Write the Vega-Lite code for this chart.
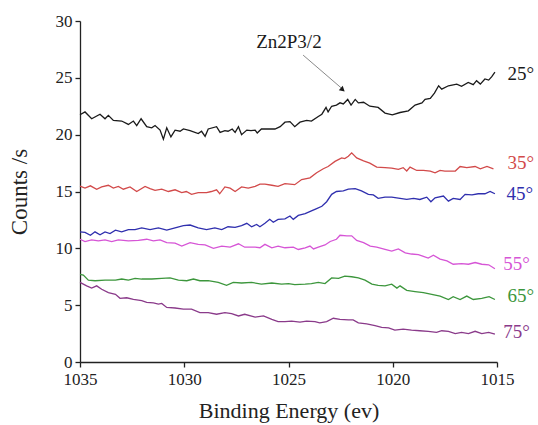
{
  "$schema": "https://vega.github.io/schema/vega-lite/v6.json",
  "width": 417,
  "height": 341,
  "autosize": {"type": "none"},
  "padding": {"left": 80, "top": 21, "right": 41, "bottom": 63},
  "background": "white",
  "config": {
    "font": "Liberation Serif",
    "view": {"stroke": null},
    "text": {"font": "Liberation Serif"},
    "axis": {
      "labelFont": "Liberation Serif",
      "titleFont": "Liberation Serif",
      "labelFontSize": 17,
      "labelColor": "#222",
      "titleColor": "#222",
      "titleFontWeight": "normal",
      "domainColor": "#222",
      "domainWidth": 1.3,
      "tickColor": "#222",
      "tickWidth": 1.3,
      "tickSize": 5,
      "grid": false,
      "labelOverlap": false,
      "labelFlush": false
    }
  },
  "datasets": {
    "curves": [
      {"s":"25","x":1035,"y":21.75},{"s":"25","x":1034.76,"y":22.0},{"s":"25","x":1034.44,"y":21.4},{"s":"25","x":1034.04,"y":21.8},{"s":"25","x":1033.8,"y":21.4},{"s":"25","x":1033.64,"y":21.7},{"s":"25","x":1033.4,"y":21.25},{"s":"25","x":1033.0,"y":21.2},{"s":"25","x":1032.68,"y":20.9},{"s":"25","x":1032.44,"y":21.2},{"s":"25","x":1032.28,"y":20.8},{"s":"25","x":1032.07,"y":21.4},{"s":"25","x":1031.8,"y":20.7},{"s":"25","x":1031.56,"y":20.6},{"s":"25","x":1031.4,"y":20.8},{"s":"25","x":1031.16,"y":20.4},{"s":"25","x":1031.0,"y":19.6},{"s":"25","x":1030.84,"y":20.6},{"s":"25","x":1030.64,"y":19.8},{"s":"25","x":1030.44,"y":20.4},{"s":"25","x":1030.2,"y":20.3},{"s":"25","x":1030.04,"y":20.5},{"s":"25","x":1029.72,"y":20.35},{"s":"25","x":1029.33,"y":20.1},{"s":"25","x":1029.17,"y":20.3},{"s":"25","x":1029.0,"y":19.85},{"s":"25","x":1028.85,"y":20.5},{"s":"25","x":1028.45,"y":20.7},{"s":"25","x":1028.28,"y":20.2},{"s":"25","x":1028.05,"y":20.35},{"s":"25","x":1027.9,"y":20.3},{"s":"25","x":1027.7,"y":20.5},{"s":"25","x":1027.56,"y":20.2},{"s":"25","x":1027.4,"y":20.7},{"s":"25","x":1027.25,"y":20.0},{"s":"25","x":1027.0,"y":20.4},{"s":"25","x":1026.8,"y":20.35},{"s":"25","x":1026.6,"y":20.4},{"s":"25","x":1026.5,"y":20.15},{"s":"25","x":1026.3,"y":20.5},{"s":"25","x":1025.65,"y":20.5},{"s":"25","x":1025.4,"y":20.7},{"s":"25","x":1025.17,"y":21.1},{"s":"25","x":1024.93,"y":21.15},{"s":"25","x":1024.7,"y":20.7},{"s":"25","x":1024.45,"y":21.1},{"s":"25","x":1024.13,"y":21.25},{"s":"25","x":1023.9,"y":21.2},{"s":"25","x":1023.57,"y":21.6},{"s":"25","x":1023.4,"y":21.8},{"s":"25","x":1023.2,"y":22.4},{"s":"25","x":1023.1,"y":22.0},{"s":"25","x":1022.93,"y":22.5},{"s":"25","x":1022.7,"y":22.6},{"s":"25","x":1022.53,"y":22.8},{"s":"25","x":1022.37,"y":22.7},{"s":"25","x":1022.16,"y":23.1},{"s":"25","x":1022.0,"y":22.6},{"s":"25","x":1021.8,"y":23.1},{"s":"25","x":1021.65,"y":22.8},{"s":"25","x":1021.4,"y":22.85},{"s":"25","x":1021.1,"y":22.5},{"s":"25","x":1020.7,"y":22.4},{"s":"25","x":1020.37,"y":21.9},{"s":"25","x":1020.02,"y":21.75},{"s":"25","x":1019.65,"y":21.95},{"s":"25","x":1019.25,"y":22.1},{"s":"25","x":1018.93,"y":22.6},{"s":"25","x":1018.6,"y":22.8},{"s":"25","x":1018.45,"y":23.1},{"s":"25","x":1018.2,"y":23.2},{"s":"25","x":1018.0,"y":23.65},{"s":"25","x":1017.8,"y":24.3},{"s":"25","x":1017.65,"y":24.0},{"s":"25","x":1017.33,"y":24.3},{"s":"25","x":1016.93,"y":24.45},{"s":"25","x":1016.7,"y":24.25},{"s":"25","x":1016.38,"y":24.6},{"s":"25","x":1016.14,"y":24.4},{"s":"25","x":1015.98,"y":24.75},{"s":"25","x":1015.8,"y":24.45},{"s":"25","x":1015.58,"y":24.9},{"s":"25","x":1015.4,"y":24.8},{"s":"25","x":1015.25,"y":25.1},{"s":"25","x":1015.1,"y":25.5},

      {"s":"35","x":1035,"y":15.47},{"s":"35","x":1034.76,"y":15.3},{"s":"35","x":1034.5,"y":15.5},{"s":"35","x":1034.2,"y":15.2},{"s":"35","x":1033.96,"y":15.4},{"s":"35","x":1033.64,"y":15.55},{"s":"35","x":1033.4,"y":15.3},{"s":"35","x":1033.16,"y":15.45},{"s":"35","x":1032.92,"y":15.2},{"s":"35","x":1032.6,"y":15.4},{"s":"35","x":1032.28,"y":15.0},{"s":"35","x":1031.88,"y":15.45},{"s":"35","x":1031.64,"y":15.25},{"s":"35","x":1031.4,"y":15.1},{"s":"35","x":1031.08,"y":15.2},{"s":"35","x":1030.76,"y":15.0},{"s":"35","x":1030.44,"y":15.15},{"s":"35","x":1030.12,"y":14.9},{"s":"35","x":1029.9,"y":15.0},{"s":"35","x":1029.65,"y":14.75},{"s":"35","x":1029.33,"y":14.9},{"s":"35","x":1028.93,"y":14.9},{"s":"35","x":1028.7,"y":15.0},{"s":"35","x":1028.45,"y":15.15},{"s":"35","x":1028.3,"y":14.8},{"s":"35","x":1028.05,"y":15.4},{"s":"35","x":1027.8,"y":15.3},{"s":"35","x":1027.56,"y":15.0},{"s":"35","x":1027.25,"y":15.4},{"s":"35","x":1026.93,"y":15.3},{"s":"35","x":1026.6,"y":15.45},{"s":"35","x":1026.37,"y":15.65},{"s":"35","x":1026.13,"y":15.65},{"s":"35","x":1025.8,"y":15.55},{"s":"35","x":1025.5,"y":15.45},{"s":"35","x":1025.17,"y":15.7},{"s":"35","x":1024.7,"y":15.6},{"s":"35","x":1024.37,"y":16.05},{"s":"35","x":1023.97,"y":16.2},{"s":"35","x":1023.65,"y":16.65},{"s":"35","x":1023.33,"y":17.0},{"s":"35","x":1023.1,"y":17.2},{"s":"35","x":1022.77,"y":17.65},{"s":"35","x":1022.45,"y":17.95},{"s":"35","x":1022.3,"y":17.9},{"s":"35","x":1022.13,"y":18.1},{"s":"35","x":1021.97,"y":18.4},{"s":"35","x":1021.73,"y":17.95},{"s":"35","x":1021.4,"y":17.7},{"s":"35","x":1021.1,"y":17.5},{"s":"35","x":1020.77,"y":17.15},{"s":"35","x":1020.37,"y":17.1},{"s":"35","x":1020.05,"y":17.05},{"s":"35","x":1019.73,"y":16.95},{"s":"35","x":1019.5,"y":17.1},{"s":"35","x":1019.33,"y":16.8},{"s":"35","x":1019.17,"y":17.15},{"s":"35","x":1018.85,"y":16.85},{"s":"35","x":1018.53,"y":16.85},{"s":"35","x":1018.2,"y":16.8},{"s":"35","x":1017.97,"y":16.65},{"s":"35","x":1017.73,"y":16.85},{"s":"35","x":1017.5,"y":16.8},{"s":"35","x":1017.0,"y":16.8},{"s":"35","x":1016.77,"y":17.2},{"s":"35","x":1016.45,"y":17.1},{"s":"35","x":1016.05,"y":17.2},{"s":"35","x":1015.8,"y":17.0},{"s":"35","x":1015.48,"y":17.2},{"s":"35","x":1015.17,"y":17.0},

      {"s":"45","x":1035,"y":11.45},{"s":"45","x":1034.76,"y":11.4},{"s":"45","x":1034.5,"y":11.15},{"s":"45","x":1034.28,"y":11.45},{"s":"45","x":1034.04,"y":11.2},{"s":"45","x":1033.8,"y":11.45},{"s":"45","x":1033.56,"y":11.3},{"s":"45","x":1033.3,"y":11.6},{"s":"45","x":1033.0,"y":11.45},{"s":"45","x":1032.68,"y":11.65},{"s":"45","x":1032.36,"y":11.65},{"s":"45","x":1032.04,"y":11.8},{"s":"45","x":1031.64,"y":11.65},{"s":"45","x":1031.24,"y":11.8},{"s":"45","x":1030.84,"y":11.6},{"s":"45","x":1030.44,"y":11.8},{"s":"45","x":1030.04,"y":12.0},{"s":"45","x":1029.72,"y":12.05},{"s":"45","x":1029.33,"y":11.8},{"s":"45","x":1028.93,"y":11.65},{"s":"45","x":1028.53,"y":11.8},{"s":"45","x":1028.2,"y":11.65},{"s":"45","x":1027.9,"y":11.9},{"s":"45","x":1027.56,"y":11.85},{"s":"45","x":1027.25,"y":12.0},{"s":"45","x":1027.0,"y":12.2},{"s":"45","x":1026.77,"y":11.9},{"s":"45","x":1026.53,"y":12.1},{"s":"45","x":1026.37,"y":11.9},{"s":"45","x":1026.13,"y":12.2},{"s":"45","x":1025.9,"y":12.55},{"s":"45","x":1025.73,"y":12.3},{"s":"45","x":1025.5,"y":12.55},{"s":"45","x":1025.17,"y":12.6},{"s":"45","x":1024.93,"y":12.85},{"s":"45","x":1024.77,"y":12.55},{"s":"45","x":1024.53,"y":12.9},{"s":"45","x":1024.2,"y":13.05},{"s":"45","x":1023.9,"y":13.3},{"s":"45","x":1023.65,"y":13.5},{"s":"45","x":1023.4,"y":13.7},{"s":"45","x":1023.17,"y":14.1},{"s":"45","x":1022.93,"y":14.75},{"s":"45","x":1022.7,"y":15.0},{"s":"45","x":1022.37,"y":15.05},{"s":"45","x":1022.13,"y":15.2},{"s":"45","x":1021.8,"y":15.25},{"s":"45","x":1021.5,"y":15.05},{"s":"45","x":1021.17,"y":14.75},{"s":"45","x":1020.93,"y":14.7},{"s":"45","x":1020.7,"y":14.4},{"s":"45","x":1020.37,"y":14.5},{"s":"45","x":1020.05,"y":14.5},{"s":"45","x":1019.65,"y":14.4},{"s":"45","x":1019.33,"y":14.3},{"s":"45","x":1019.0,"y":14.4},{"s":"45","x":1018.7,"y":14.3},{"s":"45","x":1018.37,"y":14.5},{"s":"45","x":1018.17,"y":14.1},{"s":"45","x":1017.97,"y":14.45},{"s":"45","x":1017.57,"y":14.6},{"s":"45","x":1017.33,"y":14.15},{"s":"45","x":1017.1,"y":14.4},{"s":"45","x":1016.77,"y":14.3},{"s":"45","x":1016.53,"y":14.75},{"s":"45","x":1016.2,"y":14.7},{"s":"45","x":1015.9,"y":14.8},{"s":"45","x":1015.58,"y":14.8},{"s":"45","x":1015.33,"y":15.0},{"s":"45","x":1015.1,"y":14.8},

      {"s":"55","x":1035,"y":10.8},{"s":"55","x":1034.76,"y":10.6},{"s":"55","x":1034.44,"y":10.75},{"s":"55","x":1034.12,"y":10.65},{"s":"55","x":1033.8,"y":10.75},{"s":"55","x":1033.48,"y":10.6},{"s":"55","x":1033.16,"y":10.75},{"s":"55","x":1032.68,"y":10.65},{"s":"55","x":1032.2,"y":10.7},{"s":"55","x":1031.8,"y":10.8},{"s":"55","x":1031.48,"y":10.65},{"s":"55","x":1031.16,"y":10.75},{"s":"55","x":1030.84,"y":10.5},{"s":"55","x":1030.44,"y":10.45},{"s":"55","x":1030.12,"y":10.2},{"s":"55","x":1029.72,"y":10.5},{"s":"55","x":1029.33,"y":10.35},{"s":"55","x":1029.0,"y":10.3},{"s":"55","x":1028.6,"y":10.0},{"s":"55","x":1028.2,"y":10.2},{"s":"55","x":1027.8,"y":10.1},{"s":"55","x":1027.4,"y":10.4},{"s":"55","x":1027.1,"y":10.1},{"s":"55","x":1026.6,"y":10.1},{"s":"55","x":1026.37,"y":10.05},{"s":"55","x":1026.13,"y":10.35},{"s":"55","x":1025.8,"y":10.05},{"s":"55","x":1025.5,"y":10.2},{"s":"55","x":1025.17,"y":10.05},{"s":"55","x":1024.77,"y":10.1},{"s":"55","x":1024.53,"y":9.9},{"s":"55","x":1024.2,"y":10.05},{"s":"55","x":1023.97,"y":10.2},{"s":"55","x":1023.8,"y":9.95},{"s":"55","x":1023.57,"y":10.1},{"s":"55","x":1023.25,"y":10.3},{"s":"55","x":1023.0,"y":10.6},{"s":"55","x":1022.7,"y":10.8},{"s":"55","x":1022.53,"y":11.15},{"s":"55","x":1022.2,"y":11.1},{"s":"55","x":1021.97,"y":11.1},{"s":"55","x":1021.73,"y":10.7},{"s":"55","x":1021.4,"y":10.5},{"s":"55","x":1021.08,"y":10.2},{"s":"55","x":1020.77,"y":10.1},{"s":"55","x":1020.37,"y":9.9},{"s":"55","x":1020.05,"y":9.75},{"s":"55","x":1019.73,"y":9.95},{"s":"55","x":1019.4,"y":9.6},{"s":"55","x":1019.1,"y":9.5},{"s":"55","x":1018.77,"y":9.45},{"s":"55","x":1018.53,"y":9.3},{"s":"55","x":1018.3,"y":9.15},{"s":"55","x":1018.05,"y":9.4},{"s":"55","x":1017.73,"y":9.05},{"s":"55","x":1017.4,"y":8.9},{"s":"55","x":1017.1,"y":8.6},{"s":"55","x":1016.7,"y":8.65},{"s":"55","x":1016.37,"y":8.6},{"s":"55","x":1016.05,"y":8.75},{"s":"55","x":1015.73,"y":8.6},{"s":"55","x":1015.4,"y":8.55},{"s":"55","x":1015.1,"y":8.2},

      {"s":"65","x":1035,"y":7.7},{"s":"65","x":1034.84,"y":7.65},{"s":"65","x":1034.6,"y":7.2},{"s":"65","x":1034.28,"y":7.15},{"s":"65","x":1033.8,"y":7.2},{"s":"65","x":1033.3,"y":7.2},{"s":"65","x":1033.0,"y":7.3},{"s":"65","x":1032.68,"y":7.2},{"s":"65","x":1032.36,"y":7.35},{"s":"65","x":1032.04,"y":7.3},{"s":"65","x":1031.56,"y":7.3},{"s":"65","x":1031.08,"y":7.35},{"s":"65","x":1030.68,"y":7.4},{"s":"65","x":1030.28,"y":7.2},{"s":"65","x":1029.88,"y":7.15},{"s":"65","x":1029.56,"y":7.3},{"s":"65","x":1029.25,"y":7.15},{"s":"65","x":1028.85,"y":7.15},{"s":"65","x":1028.37,"y":7.0},{"s":"65","x":1027.97,"y":6.75},{"s":"65","x":1027.65,"y":7.0},{"s":"65","x":1027.25,"y":6.95},{"s":"65","x":1026.77,"y":7.0},{"s":"65","x":1026.3,"y":6.85},{"s":"65","x":1025.8,"y":6.95},{"s":"65","x":1025.33,"y":6.85},{"s":"65","x":1025.0,"y":6.9},{"s":"65","x":1024.7,"y":6.8},{"s":"65","x":1024.2,"y":6.85},{"s":"65","x":1023.9,"y":6.9},{"s":"65","x":1023.57,"y":7.0},{"s":"65","x":1023.25,"y":6.9},{"s":"65","x":1022.93,"y":7.4},{"s":"65","x":1022.6,"y":7.35},{"s":"65","x":1022.3,"y":7.55},{"s":"65","x":1021.97,"y":7.5},{"s":"65","x":1021.65,"y":7.4},{"s":"65","x":1021.33,"y":7.2},{"s":"65","x":1021.0,"y":6.85},{"s":"65","x":1020.7,"y":6.75},{"s":"65","x":1020.37,"y":6.7},{"s":"65","x":1020.05,"y":6.85},{"s":"65","x":1019.8,"y":6.5},{"s":"65","x":1019.65,"y":6.7},{"s":"65","x":1019.33,"y":6.3},{"s":"65","x":1018.93,"y":6.2},{"s":"65","x":1018.53,"y":6.1},{"s":"65","x":1018.13,"y":5.95},{"s":"65","x":1017.73,"y":5.8},{"s":"65","x":1017.33,"y":5.5},{"s":"65","x":1017.1,"y":5.75},{"s":"65","x":1016.77,"y":5.5},{"s":"65","x":1016.45,"y":5.8},{"s":"65","x":1016.14,"y":5.5},{"s":"65","x":1015.73,"y":5.6},{"s":"65","x":1015.38,"y":5.75},{"s":"65","x":1015.1,"y":5.5},

      {"s":"75","x":1035,"y":7.0},{"s":"75","x":1034.68,"y":6.7},{"s":"75","x":1034.44,"y":6.5},{"s":"75","x":1034.2,"y":6.7},{"s":"75","x":1033.96,"y":6.4},{"s":"75","x":1033.64,"y":6.1},{"s":"75","x":1033.3,"y":5.95},{"s":"75","x":1033.08,"y":5.6},{"s":"75","x":1032.76,"y":5.65},{"s":"75","x":1032.44,"y":5.5},{"s":"75","x":1032.04,"y":5.4},{"s":"75","x":1031.8,"y":5.25},{"s":"75","x":1031.48,"y":5.2},{"s":"75","x":1031.24,"y":5.1},{"s":"75","x":1031.08,"y":5.15},{"s":"75","x":1030.84,"y":4.8},{"s":"75","x":1030.44,"y":4.75},{"s":"75","x":1030.04,"y":4.65},{"s":"75","x":1029.65,"y":4.65},{"s":"75","x":1029.25,"y":4.35},{"s":"75","x":1028.85,"y":4.35},{"s":"75","x":1028.45,"y":4.2},{"s":"75","x":1028.05,"y":4.35},{"s":"75","x":1027.73,"y":4.25},{"s":"75","x":1027.4,"y":4.05},{"s":"75","x":1027.1,"y":4.2},{"s":"75","x":1026.6,"y":3.95},{"s":"75","x":1026.2,"y":4.05},{"s":"75","x":1025.8,"y":3.75},{"s":"75","x":1025.5,"y":3.55},{"s":"75","x":1025.17,"y":3.55},{"s":"75","x":1024.85,"y":3.6},{"s":"75","x":1024.45,"y":3.5},{"s":"75","x":1024.13,"y":3.6},{"s":"75","x":1023.73,"y":3.55},{"s":"75","x":1023.5,"y":3.45},{"s":"75","x":1023.17,"y":3.55},{"s":"75","x":1022.85,"y":3.85},{"s":"75","x":1022.53,"y":3.75},{"s":"75","x":1022.13,"y":3.7},{"s":"75","x":1021.9,"y":3.7},{"s":"75","x":1021.65,"y":3.45},{"s":"75","x":1021.25,"y":3.35},{"s":"75","x":1020.85,"y":3.2},{"s":"75","x":1020.53,"y":3.05},{"s":"75","x":1020.2,"y":3.0},{"s":"75","x":1019.9,"y":2.8},{"s":"75","x":1019.5,"y":2.9},{"s":"75","x":1019.1,"y":2.8},{"s":"75","x":1018.7,"y":2.75},{"s":"75","x":1018.3,"y":2.7},{"s":"75","x":1017.9,"y":2.6},{"s":"75","x":1017.65,"y":2.75},{"s":"75","x":1017.33,"y":2.7},{"s":"75","x":1017.0,"y":2.5},{"s":"75","x":1016.7,"y":2.6},{"s":"75","x":1016.37,"y":2.5},{"s":"75","x":1016.05,"y":2.7},{"s":"75","x":1015.73,"y":2.5},{"s":"75","x":1015.4,"y":2.6},{"s":"75","x":1015.1,"y":2.45}
    ],
    "labels": [
      {"s":"25","x":1014.5,"y":25.35,"t":"25°"},
      {"s":"35","x":1014.5,"y":17.5,"t":"35°"},
      {"s":"45","x":1014.55,"y":14.75,"t":"45°"},
      {"s":"55","x":1014.7,"y":8.6,"t":"55°"},
      {"s":"65","x":1014.5,"y":5.8,"t":"65°"},
      {"s":"75","x":1014.7,"y":2.6,"t":"75°"}
    ],
    "note": [{"x":1024.98,"y":28.15,"t":"Zn2P3/2"}],
    "arrow": [{"x":1024.3,"y":27.0,"x2":1022.4,"y2":24.0}],
    "head": [{"x":1022.4,"y":23.95}]
  },
  "encoding": {
    "x": {
      "field": "x", "type": "quantitative",
      "scale": {"domain": [1015, 1035], "reverse": true, "nice": false, "zero": false},
      "axis": {"values": [1035, 1030, 1025, 1020, 1015], "format": "d", "title": "Binding Energy (ev)", "titleFontSize": 22, "labelFont": "Liberation Serif", "titleFont": "Liberation Serif", "labelPadding": 4, "titlePadding": 13}
    },
    "y": {
      "field": "y", "type": "quantitative",
      "scale": {"domain": [0, 30], "nice": false, "zero": false},
      "axis": {"values": [0, 5, 10, 15, 20, 25, 30], "title": "Counts /s", "titleFontSize": 23, "labelFont": "Liberation Serif", "titleFont": "Liberation Serif", "labelPadding": 3, "titlePadding": 24}
    }
  },
  "layer": [
    {
      "data": {"name": "curves"},
      "mark": {"type": "line", "strokeWidth": 1.3, "interpolate": "linear"},
      "encoding": {
        "color": {"field": "s", "type": "nominal", "legend": null,
          "scale": {"domain": ["25","35","45","55","65","75"], "range": ["#1a1a1a","#d24a4a","#2f2fae","#d655d6","#3c963c","#8a3a8a"]}}
      }
    },
    {
      "data": {"name": "labels"},
      "mark": {"type": "text", "align": "left", "baseline": "middle", "font": "Liberation Serif", "fontSize": 19},
      "encoding": {
        "text": {"field": "t"},
        "color": {"field": "s", "type": "nominal", "legend": null}
      }
    },
    {
      "data": {"name": "note"},
      "mark": {"type": "text", "align": "center", "baseline": "middle", "font": "Liberation Serif", "fontSize": 19, "color": "#1a1a1a"},
      "encoding": {"text": {"field": "t"}}
    },
    {
      "data": {"name": "arrow"},
      "mark": {"type": "rule", "color": "#8a8a8a", "strokeWidth": 1},
      "encoding": {"x2": {"field": "x2"}, "y2": {"field": "y2"}}
    },
    {
      "data": {"name": "head"},
      "mark": {"type": "point", "shape": "triangle-right", "angle": 41, "size": 35, "filled": true, "color": "#1a1a1a", "opacity": 1},
      "encoding": {}
    }
  ]
}
